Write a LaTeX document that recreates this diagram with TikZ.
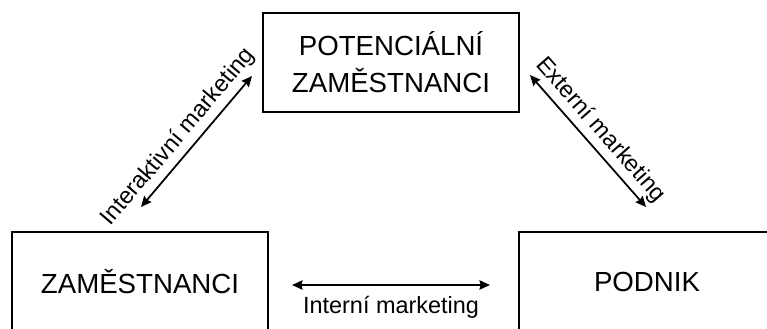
\documentclass[tikz,border=0pt]{standalone}
\usepackage{fontspec}
\setmainfont{Liberation Sans}
\usetikzlibrary{arrows.meta}
\tikzset{
  box/.style={draw=black, line width=1.5pt, minimum width=7.68cm, minimum height=2.97cm, align=center, font=\fontsize{23.6}{31.6}\selectfont},
  link/.style={draw=black, line width=1.5pt, {Stealth[length=9pt,width=8pt,inset=1pt]}-{Stealth[length=9pt,width=8pt,inset=1pt]}},
  lab/.style={text=black, inner sep=4pt, font=\fontsize{20}{24}\selectfont},
}

\begin{document}
\begin{tikzpicture}
  \useasboundingbox (0,0) rectangle (23.01,9.84);
  \clip (0,0) rectangle (23.01,9.84);
  \node[box] (potencialni) at (11.73,7.965) {POTENCIÁLNÍ\\ZAMĚSTNANCI};
  \node[box] (zamestnanci) at (4.2,1.395) {ZAMĚSTNANCI};
  \node[box] (podnik) at (19.41,1.395) {PODNIK};
  \coordinate (int1) at (4.23,3.63);
  \coordinate (int2) at (7.56,7.56);
  \coordinate (ext1) at (15.9,7.59);
  \coordinate (ext2) at (19.38,3.63);
  \coordinate (inn1) at (8.76,1.29);
  \coordinate (inn2) at (14.7,1.29);
  \draw[link] (int1) -- node[lab,sloped,above,pos=0.45] {Interaktivní marketing} (int2);
  \draw[link] (ext1) -- node[lab,sloped,above] {Externí marketing} (ext2);
  \draw[link] (inn1) -- node[lab,below=5pt] {Interní marketing} (inn2);
\end{tikzpicture}
\end{document}
